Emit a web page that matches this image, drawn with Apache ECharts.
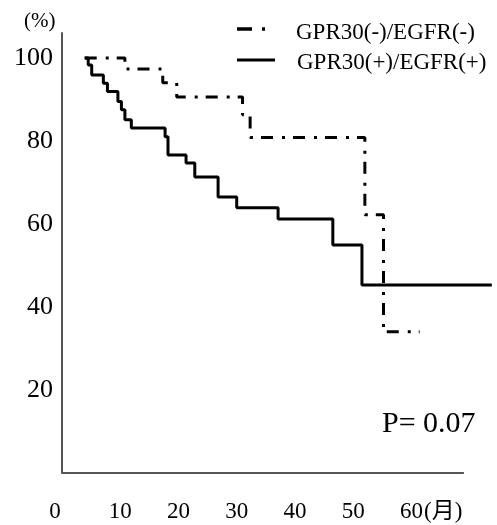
<!DOCTYPE html>
<html>
<head>
<meta charset="utf-8">
<script src="https://cdn.jsdelivr.net/npm/echarts@6/dist/echarts.min.js"></script>
<style>html,body{margin:0;padding:0;background:#fff;}#c{width:497px;height:525px;}</style>
</head>
<body>
<div id="c"></div>
<script>
// Survival data (months, %)
const negName = 'GPR30(-)/EGFR(-)';
const negTimes = [3.9, 10.8, 17.3, 19.7, 31.0, 32.3, 52.0, 55.2, 61.4];
const negSurv  = [100, 97.3, 94.0, 90.6, 86.3, 80.8, 62.2, 34.0, 34.0];

const posName = 'GPR30(+)/EGFR(+)';
const posTimes = [3.9, 4.5, 5.1, 7.1, 7.8, 9.6, 10.2, 10.8, 11.9, 17.7, 18.2, 21.3, 22.8, 26.8, 30.0, 37.1, 46.5, 51.5, 73.8];
const posSurv  = [100, 98.3, 95.9, 93.9, 91.9, 89.5, 87.5, 85.1, 83.1, 81.0, 76.6, 74.7, 71.3, 66.5, 63.9, 61.2, 54.9, 45.3, 45.3];

const xTicks = [10, 20, 30, 40, 50, 60];
const xLabels = [0, 10, 20, 30, 40, 50, 60];
const xAxisEnd = 69;
const yTicks = [20, 40, 60, 80, 100];
const pText = 'P= 0.07';
const xUnit = '(月)';
const yUnit = '(%)';

const serif = '"Liberation Serif", "DejaVu Serif", serif';
const chart = echarts.init(document.getElementById('c'), null, {renderer: 'canvas'});

const pairs = (t, s) => t.map((v, i) => [v, s[i]]);
const tickStyle = {color: '#666', width: 1.5, type: 'solid'};
// x-axis line (ends before the data extent, as in the figure) plus tick marks, drawn in data coordinates
const axisMarks = [[{coord: [0, 0], lineStyle: {color: '#555', width: 2, type: 'solid'}}, {coord: [xAxisEnd, 0]}]]
  .concat(xTicks.map(v => [{coord: [v, 0], lineStyle: tickStyle}, {coord: [v, -1.8]}]))
  .concat(yTicks.map(v => [{coord: [0, v], lineStyle: tickStyle}, {coord: [-0.85, v]}]));

chart.setOption({
  animation: false,
  backgroundColor: '#fff',
  grid: {left: 62, width: 431, top: 33, bottom: 52, containLabel: false},
  xAxis: {
    type: 'value', min: 0, max: 74, interval: 10,
    axisLine: {show: false},
    axisTick: {show: false},
    splitLine: {show: false},
    axisLabel: {
      customValues: xLabels, margin: 27, color: '#000', fontFamily: serif, fontSize: 23,
      formatter: v => v === 0 ? '{z|0}' : String(v),
      rich: {z: {fontFamily: serif, fontSize: 23, color: '#000', padding: [0, 14, 0, 0]}}
    }
  },
  yAxis: {
    type: 'value', min: 0, max: 106, interval: 20,
    axisLine: {show: true, lineStyle: {color: '#555', width: 2}},
    axisTick: {show: false},
    splitLine: {show: false},
    axisLabel: {customValues: yTicks, margin: 9, color: '#000', fontFamily: serif, fontSize: 26}
  },
  series: [
    {
      name: negName, type: 'line', step: 'end', symbol: 'none',
      data: pairs(negTimes, negSurv),
      lineStyle: {color: '#000', width: 3, type: [12, 9, 3, 8]},
      markLine: {
        silent: true, symbol: 'none', label: {show: false},
        lineStyle: {color: '#555', width: 2, type: 'solid'},
        data: axisMarks
      }
    },
    {
      name: posName, type: 'line', step: 'end', symbol: 'none',
      data: pairs(posTimes, posSurv),
      lineStyle: {color: '#000', width: 3, type: 'solid'}
    }
  ],
  graphic: [
    {type: 'text', left: 24, top: 11, style: {text: yUnit, font: '21px ' + serif, fill: '#000'}},
    {type: 'text', x: 424, y: 512, style: {text: xUnit, font: '23px ' + serif + ', "Noto Sans CJK JP"', fill: '#000', verticalAlign: 'middle'}},
    {type: 'text', x: 382, y: 424, style: {text: pText, font: '30px ' + serif, fill: '#000', verticalAlign: 'middle'}},
    {type: 'line', shape: {x1: 237, y1: 29, x2: 266, y2: 29}, style: {stroke: '#000', lineWidth: 3.5, lineDash: [15, 10, 3, 100]}},
    {type: 'line', shape: {x1: 237, y1: 60, x2: 275, y2: 60}, style: {stroke: '#000', lineWidth: 3}},
    {type: 'text', x: 296, y: 33, style: {text: negName, font: '23px ' + serif, fill: '#000', verticalAlign: 'middle'}},
    {type: 'text', x: 297, y: 63, style: {text: posName, font: '23px ' + serif, fill: '#000', verticalAlign: 'middle'}}
  ]
});
</script>
</body>
</html>
